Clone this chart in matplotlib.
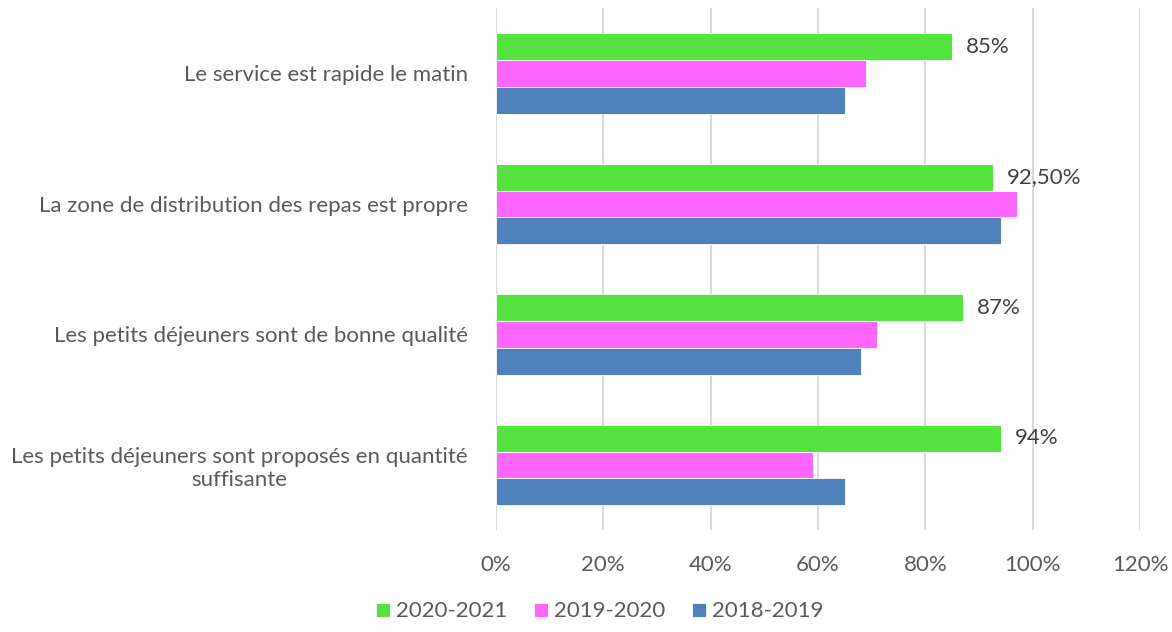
import matplotlib.pyplot as plt
import numpy as np

plt.rcParams["font.family"] = ["Lato", "DejaVu Sans"]

categories = [
    "Le service est rapide le matin",
    "La zone de distribution des repas est propre",
    "Les petits déjeuners sont de bonne qualité",
    "Les petits déjeuners sont proposés en quantité\nsuffisante",
]
series_names = ["2020-2021", "2019-2020", "2018-2019"]
v2021 = [0.85, 0.925, 0.87, 0.94]
v2020 = [0.69, 0.97, 0.71, 0.59]
v2019 = [0.65, 0.94, 0.68, 0.65]
labels_2021 = ["85%", "92,50%", "87%", "94%"]
colors = ["#55E340", "#FF66FF", "#4F81BD"]

fig = plt.figure(figsize=(11.72, 6.32), dpi=100)
ax = fig.add_axes([0.423, 0.161, 0.550, 0.826])

y = np.arange(len(categories))
h = 0.205
series = [v2021, v2020, v2019]
for i, (vals, name, c) in enumerate(zip(series, series_names, colors)):
    bars = ax.barh(y + (i - 1) * h, vals, height=h, color=c, label=name,
                   edgecolor="white", linewidth=0.6, zorder=3)
    if i == 0:
        for b, lab in zip(bars, labels_2021):
            ax.text(b.get_width() + 0.026, b.get_y() + b.get_height() / 2, lab,
                    va="center", ha="left", fontsize=16, color="#404040")

ax.set_ylim(len(categories) - 0.5, -0.5)
ax.set_xlim(0, 1.2)
ax.set_xticks(np.arange(0, 1.21, 0.2))
ax.set_xticklabels([f"{int(round(t * 100))}%" for t in np.arange(0, 1.21, 0.2)])
ax.set_yticks(y)
ax.set_yticklabels(categories, multialignment="center")
ax.xaxis.grid(True, color="#D9D9D9", linewidth=1.5, zorder=0)
for s in ["top", "right", "bottom", "left"]:
    ax.spines[s].set_visible(False)
ax.tick_params(axis="both", length=0, labelsize=16, labelcolor="#595959")
ax.tick_params(axis="x", pad=18)
ax.tick_params(axis="y", pad=20)

fig.legend(loc="lower center", bbox_to_anchor=(0.512, -0.015), ncol=3, frameon=False,
           fontsize=16, labelcolor="#595959", handlelength=0.6, handleheight=0.6,
           handletextpad=0.3, columnspacing=1.2)

fig.savefig("out.png", dpi=100)
